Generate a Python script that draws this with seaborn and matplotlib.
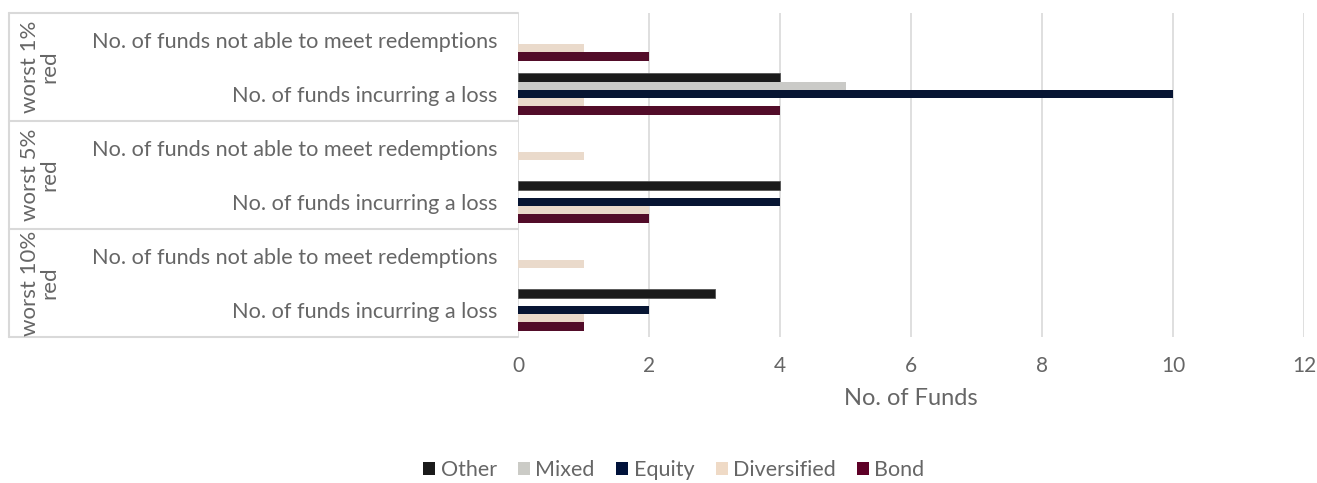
import numpy as np
import pandas as pd
import matplotlib
matplotlib.use("Agg")
import matplotlib.pyplot as plt
import seaborn as sns
from matplotlib.patches import Patch

# categories (top to bottom) and their groups
groups = ["worst 1%\nred", "worst 5%\nred", "worst 10%\nred"]
measures = ["No. of funds not able to meet redemptions", "No. of funds incurring a loss"]

series = ["Other", "Mixed", "Equity", "Diversified", "Bond"]
colors = ["#1a1a1a", "#cbcbc6", "#00123a", "#efdac6", "#5e0027"]

# values per category, in row order: 1% not able, 1% loss, 5% not able, 5% loss, 10% not able, 10% loss
other = [0, 4, 0, 4, 0, 3]
mixed = [0, 5, 0, 0, 0, 0]
equity = [0, 10, 0, 4, 0, 2]
diversified = [1, 1, 1, 2, 1, 1]
bond = [2, 4, 0, 2, 0, 1]

rows = []
for gi, g in enumerate(groups):
    for mi, m in enumerate(measures):
        rows.append(f"{gi}|{m}")

df = pd.DataFrame({"row": rows, "Other": other, "Mixed": mixed, "Equity": equity,
                   "Diversified": diversified, "Bond": bond})
long = df.melt(id_vars="row", var_name="series", value_name="funds")

sns.set_style("white")
plt.rcParams["font.family"] = ["Lato", "DejaVu Sans"]
txt = "#666666"

fig = plt.figure(figsize=(13.17, 4.83), dpi=100)
ax = fig.add_axes([518 / 1317, 1 - 337 / 483, (1304 - 518) / 1317, (337 - 13) / 483])

sns.barplot(data=long, y="row", x="funds", hue="series", hue_order=series,
            palette=colors, orient="h", width=0.76, ax=ax, legend=False,
            linewidth=0)
# thin grey outline on the "Other" bars as in the source
for bar in ax.containers[0]:
    if bar.get_width() > 0:
        bar.set_edgecolor("#555555")
        bar.set_linewidth(0.6)

ax.set_xlim(0, 12)
ax.set_xticks(np.arange(0, 13, 2))
ax.set_ylim(5.5, -0.5)
ax.grid(axis="x", color="#d9d9d9", linewidth=1.2)
ax.set_axisbelow(True)
for s in ax.spines.values():
    s.set_visible(False)

ax.set_yticks(range(len(rows)))
ax.set_yticklabels([m for g in groups for m in measures], fontsize=15.6, color=txt)
ax.tick_params(axis="y", length=0, pad=15)
ax.tick_params(axis="x", length=0, pad=14, labelsize=15, labelcolor=txt)
ax.set_ylabel("")
ax.set_xlabel("No. of Funds", fontsize=17, color=txt, labelpad=8)

# group boxes on the category axis
trans = ax.get_yaxis_transform()
x_left = (9 - 518) / (1304 - 518)
for yb in [-0.5, 1.5, 3.5, 5.5]:
    ax.plot([x_left, 0], [yb, yb], transform=trans, color="#d9d9d9", lw=1.5, clip_on=False)
ax.plot([x_left, x_left], [-0.5, 5.5], transform=trans, color="#d9d9d9", lw=1.5, clip_on=False)
x_grp = (40 - 518) / (1304 - 518)
for gi, g in enumerate(groups):
    ax.text(x_grp, gi * 2 + 0.5, g, transform=trans, rotation=90, ha="center", va="center",
            fontsize=16, color=txt, linespacing=0.95)

handles = [Patch(facecolor=c, edgecolor="none", label=s) for s, c in zip(series, colors)]
leg = fig.legend(handles=handles, loc="center", bbox_to_anchor=(674 / 1317, 1 - 470 / 483),
                 ncol=5, frameon=False, fontsize=15.5, handlelength=0.55, handleheight=0.55,
                 handletextpad=0.25, columnspacing=1.0)
for t in leg.get_texts():
    t.set_color(txt)

fig.savefig("out.png", dpi=100)
